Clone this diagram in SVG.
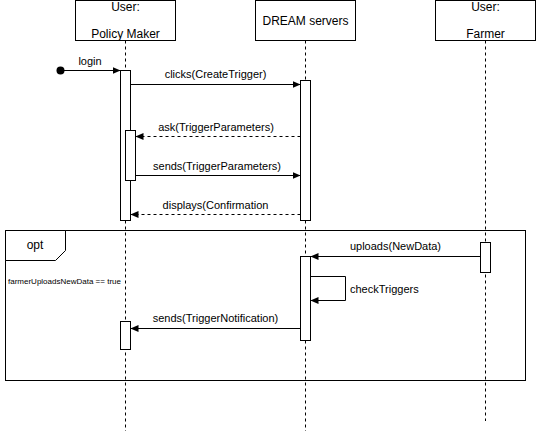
<svg xmlns="http://www.w3.org/2000/svg" width="536" height="431" viewBox="0 0 536 431">
<style>
text{font-family:"Liberation Sans",Arial,sans-serif;fill:#000}
.hdr{fill:#fff;stroke:#000;stroke-width:1}
.life{stroke:#000;stroke-width:1;stroke-dasharray:3 3;fill:none}
.act{fill:#fff;stroke:#000;stroke-width:1}
.msg{stroke:#000;stroke-width:1;fill:none}
.ret{stroke:#000;stroke-width:1;fill:none;stroke-dasharray:3 3}
.t12{font-size:12px;text-anchor:middle}
.t11{font-size:11px;text-anchor:middle}
</style>
<defs>
<marker id="arr" markerWidth="8" markerHeight="8" refX="8" refY="4" orient="auto" markerUnits="userSpaceOnUse">
<path d="M0,0.5 L8,4 L0,7.5 z" fill="#000"/>
</marker>
</defs>
<rect width="536" height="431" fill="#fff"/>

<g id="opt-frame">
<rect x="5.5" y="230.5" width="520" height="150" fill="none" stroke="#000"/>
<path d="M5.5,230.5 H65.5 V250.5 L55.5,260.5 H5.5 Z" fill="#fff" stroke="#000"/>
<text class="t12" x="35" y="249">opt</text>
<text x="8" y="284" style="font-size:8px">farmerUploadsNewData == true</text>
</g>

<g id="policy-maker">
<rect class="hdr" x="75.5" y="0.5" width="100" height="40"/>
<text class="t12" x="125.5" y="11">User:</text>
<text class="t12" x="125.5" y="38">Policy Maker</text>
<line class="life" x1="125.5" y1="40.5" x2="125.5" y2="431"/>
<rect class="act" x="120.5" y="70.5" width="10" height="150"/>
<rect class="act" x="125.5" y="130.5" width="10" height="50"/>
<rect class="act" x="120.5" y="321.5" width="10" height="28"/>
</g>

<g id="dream-servers">
<rect class="hdr" x="255.5" y="0.5" width="100" height="40"/>
<text class="t12" x="305.5" y="25">DREAM servers</text>
<line class="life" x1="305.5" y1="40.5" x2="305.5" y2="431"/>
<rect class="act" x="300.5" y="80.5" width="10" height="140"/>
<rect class="act" x="300.5" y="256.5" width="10" height="84"/>
</g>

<g id="farmer">
<rect class="hdr" x="435.5" y="0.5" width="100" height="40"/>
<text class="t12" x="485.5" y="11">User:</text>
<text class="t12" x="485.5" y="38">Farmer</text>
<line class="life" x1="485.5" y1="40.5" x2="485.5" y2="421"/>
<rect class="act" x="480.5" y="242.5" width="10" height="30"/>
</g>

<g id="connectors">
<circle cx="60.5" cy="70.5" r="4" fill="#000"/>
<line class="msg" x1="60.5" y1="70.5" x2="120.5" y2="70.5" marker-end="url(#arr)"/>
<text class="t11" x="90" y="65">login</text>

<line class="msg" x1="130.5" y1="84.5" x2="300.5" y2="84.5" marker-end="url(#arr)"/>
<text class="t11" x="215.5" y="78">clicks(CreateTrigger)</text>

<line class="ret" x1="300.5" y1="136.5" x2="135.5" y2="136.5" marker-end="url(#arr)"/>
<text class="t11" x="216" y="131">ask(TriggerParameters)</text>

<line class="msg" x1="135.5" y1="175.5" x2="300.5" y2="175.5" marker-end="url(#arr)"/>
<text class="t11" x="217" y="170">sends(TriggerParameters)</text>

<line class="ret" x1="300.5" y1="214.5" x2="130.5" y2="214.5" marker-end="url(#arr)"/>
<text class="t11" x="215.5" y="209">displays(Confirmation</text>

<line class="msg" x1="480.5" y1="256.5" x2="310.5" y2="256.5" marker-end="url(#arr)"/>
<text class="t11" x="395.5" y="250">uploads(NewData)</text>

<path class="msg" d="M310.5,276.5 H345.5 V300.5 H310.5" marker-end="url(#arr)"/>
<text x="350" y="293" style="font-size:11px">checkTriggers</text>

<line class="msg" x1="300.5" y1="328.5" x2="130.5" y2="328.5" marker-end="url(#arr)"/>
<text class="t11" x="215.5" y="322">sends(TriggerNotification)</text>
</g>
</svg>
